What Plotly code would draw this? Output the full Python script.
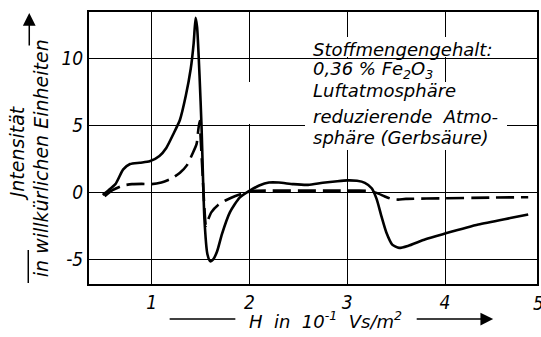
import plotly.graph_objects as go

# Magnetic field strength H (10^-1 Vs/m^2) and signal intensity (arbitrary units)
h_air = [0.50, 0.56, 0.63, 0.71, 0.78, 0.88, 0.98, 1.08, 1.15, 1.22, 1.29, 1.35,
         1.40, 1.43, 1.45, 1.465, 1.49, 1.51, 1.54, 1.57, 1.60, 1.63, 1.67, 1.72,
         1.80, 1.90, 2.00, 2.10, 2.20, 2.30, 2.45, 2.60, 2.75, 2.90, 3.00, 3.10,
         3.18, 3.25, 3.30, 3.35, 3.40, 3.46, 3.53, 3.62, 3.80, 4.00, 4.34, 4.68, 4.85]
i_air = [-0.2, 0.15, 0.6, 1.7, 2.1, 2.2, 2.3, 2.7, 3.3, 4.3, 5.4, 7.2,
         9.2, 11.1, 13.0, 12.3, 8.7, 5.0, -2.0, -4.6, -5.15, -5.0, -4.4, -3.1,
         -1.5, -0.4, 0.1, 0.5, 0.72, 0.72, 0.6, 0.55, 0.7, 0.82, 0.88, 0.85,
         0.7, 0.3, -0.5, -1.8, -3.0, -3.9, -4.15, -4.0, -3.5, -3.08, -2.41, -1.91, -1.66]

h_red = [0.52, 0.60, 0.71, 0.80, 0.90, 1.00, 1.10, 1.20, 1.29, 1.36, 1.42, 1.46,
         1.475, 1.49, 1.50, 1.52, 1.54, 1.555, 1.57, 1.61, 1.68, 1.76, 1.85, 1.95,
         2.05, 2.20, 2.50, 2.80, 3.10, 3.22, 3.30, 3.38, 3.45, 3.52, 3.60, 4.00,
         4.50, 4.85]
i_red = [-0.3, 0.15, 0.5, 0.6, 0.62, 0.6, 0.72, 1.0, 1.45, 2.0, 2.9, 3.6,
         4.5, 5.3, 4.2, 1.5, -1.2, -2.5, -2.2, -1.5, -0.95, -0.6, -0.3, -0.05,
         0.1, 0.12, 0.12, 0.12, 0.12, 0.1, -0.05, -0.3, -0.5, -0.55, -0.5, -0.45,
         -0.4, -0.37]

x_ticks = [1, 2, 3, 4]
x_tick_text = ["1", "2", "3", "4"]
y_ticks = [-5, 0, 5, 10]
y_tick_text = ["-5", "0", "5", "10"]

X_RANGE = [0.36, 4.94]
Y_RANGE = [-6.84, 13.43]

FONT = "DejaVu Sans"
TICK_FONT = "DejaVu Sans Condensed, DejaVu Sans"

# plot area in pixels
L, R, T, B = 89, 539, 12, 284


def px(xp):
    return (xp - L) / (R - L)


def py(yp):
    return (B - yp) / (B - T)


fig = go.Figure()
fig.add_trace(go.Scatter(x=h_air, y=i_air, mode="lines",
                         line=dict(color="black", width=2.6, shape="spline", smoothing=0.6),
                         name="Luftatmosphäre", showlegend=False))
fig.add_trace(go.Scatter(x=h_red, y=i_red, mode="lines",
                         line=dict(color="black", width=2.6, dash="18px,7px",
                                   shape="spline", smoothing=0.6),
                         name="reduzierende Atmosphäre (Gerbsäure)", showlegend=False))

tick_font = dict(family=TICK_FONT, size=19, color="black", style="italic")
fig.update_xaxes(range=X_RANGE, tickvals=x_ticks, ticktext=x_tick_text,
                 showline=True, mirror=True, linewidth=2, linecolor="black",
                 showgrid=True, gridcolor="black", gridwidth=1,
                 zeroline=False, tickfont=tick_font)
fig.update_yaxes(range=Y_RANGE, tickvals=y_ticks, ticktext=y_tick_text,
                 showline=True, mirror=True, linewidth=2, linecolor="black",
                 showgrid=True, gridcolor="black", gridwidth=1,
                 zeroline=False, tickfont=tick_font)

shapes = []
# key line samples
shapes.append(dict(type="line", xref="paper", yref="paper",
                   x0=px(242), x1=px(300), y0=py(89), y1=py(89),
                   line=dict(color="black", width=2.4)))
shapes.append(dict(type="line", xref="paper", yref="paper",
                   x0=px(242), x1=px(300), y0=py(117), y1=py(117),
                   line=dict(color="black", width=2.4, dash="15px,6px")))
# axis-title lead lines
shapes.append(dict(type="line", xref="paper", yref="paper",
                   x0=px(170), x1=px(236), y0=py(319), y1=py(319),
                   line=dict(color="black", width=1.5)))
shapes.append(dict(type="line", xref="paper", yref="paper",
                   x0=px(28), x1=px(28), y0=py(283), y1=py(250),
                   line=dict(color="black", width=1.5)))
fig.update_layout(shapes=shapes)

ann = []
# white patches that break the grid behind the key (x0, x1, y0, y1 in pixels)
for x0, x1, y0, y1 in [(308, 497, 37, 57), (308, 442, 59, 82),
                       (240, 306, 82, 124), (306, 508, 82, 150)]:
    ann.append(dict(text=" ", xref="paper", yref="paper", x=px(x0), y=py(y0),
                    xanchor="left", yanchor="top", width=x1 - x0, height=y1 - y0,
                    bgcolor="white", borderpad=0, borderwidth=0, showarrow=False,
                    font=dict(size=1)))

txt = dict(family=FONT, size=18, color="black", style="italic")
key_lines = [("Stoffmengengehalt:", 50),
             ("0,36 % Fe<sub>2</sub>O<sub>3</sub>", 70),
             ("Luftatmosphäre", 90),
             ("reduzierende\u00a0\u00a0Atmo-", 116),
             ("sphäre\u00a0(Gerbsäure)", 137)]
for s, yp in key_lines:
    ann.append(dict(text=s, xref="paper", yref="paper", x=px(312), y=py(yp),
                    xanchor="left", yanchor="middle", showarrow=False, font=txt))

# x-axis title with arrow
ann.append(dict(text="H\u00a0\u00a0in\u00a0\u00a010<sup>-1</sup>\u00a0\u00a0Vs/m<sup>2</sup>",
                xref="paper", yref="paper", x=px(327), y=py(320),
                xanchor="center", yanchor="middle", showarrow=False, font=txt))
ann.append(dict(text="", xref="paper", yref="paper", x=px(495), y=py(319),
                ax=-78, ay=0, showarrow=True, arrowhead=2, arrowsize=1.7,
                arrowwidth=1.5, arrowcolor="black"))
# last x tick label sits on the frame edge
ann.append(dict(text="5", xref="paper", yref="paper", x=px(541), y=py(290),
                xanchor="center", yanchor="top", showarrow=False, font=tick_font))

# y-axis title with arrow
ann.append(dict(text="Jntensität", xref="paper", yref="paper", x=px(17), y=py(153),
                xanchor="center", yanchor="middle", textangle=-90, showarrow=False,
                font=dict(family=FONT, size=19, color="black", style="italic")))
ann.append(dict(text="in willkürlichen Einheiten", xref="paper", yref="paper",
                x=px(41), y=py(158), xanchor="center", yanchor="middle",
                textangle=-90, showarrow=False,
                font=dict(family=FONT, size=19, color="black", style="italic")))
ann.append(dict(text="", xref="paper", yref="paper", x=px(29), y=py(13),
                ax=0, ay=34, showarrow=True, arrowhead=2, arrowsize=1.7,
                arrowwidth=1.5, arrowcolor="black"))
fig.update_layout(annotations=ann)

fig.update_layout(width=541, height=337,
                  margin=dict(l=L, r=541 - R, t=T, b=337 - B),
                  plot_bgcolor="white")

fig.write_html("out.html")
